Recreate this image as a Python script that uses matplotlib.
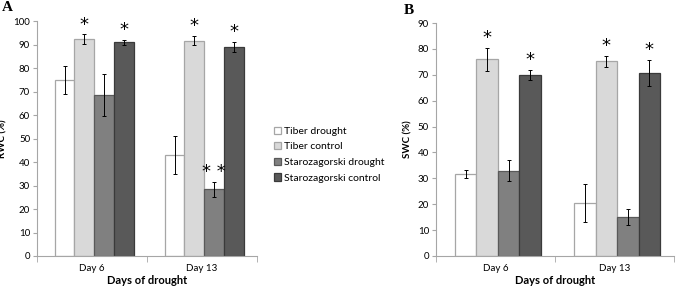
import matplotlib
matplotlib.use("Agg")
import matplotlib.pyplot as plt
import numpy as np

days = ["Day 6", "Day 13"]
series = ["Tiber drought", "Tiber control", "Starozagorski drought", "Starozagorski control"]
rwc = [[75.0, 43.0], [92.3, 91.6], [68.5, 28.4], [91.0, 89.0]]
rwc_err = [[6.0, 8.0], [2.0, 2.0], [9.0, 3.3], [1.0, 2.0]]
rwc_sig = [["", ""], ["*", "*"], ["", "* *"], ["*", "*"]]
swc = [[31.7, 20.5], [76.0, 75.2], [33.0, 15.0], [70.0, 70.7]]
swc_err = [[1.7, 7.5], [4.5, 2.0], [4.2, 3.0], [2.0, 5.0]]
swc_sig = [["", ""], ["*", "*"], ["", ""], ["*", "*"]]

faces = ["#ffffff", "#d9d9d9", "#808080", "#595959"]
edges = ["#a6a6a6", "#a6a6a6", "#595959", "#3a3a3a"]

plt.rcParams['font.family'] = ['Lato', 'DejaVu Sans']

fig = plt.figure(figsize=(6.77, 2.89), dpi=100)
axA = fig.add_axes([0.0547, 0.1142, 0.325, 0.813])
axB = fig.add_axes([0.644, 0.1142, 0.352, 0.806])

def draw(ax, vals, errs, sigs, ymax, ystep, ylabel):
    x = np.arange(len(days))
    w = 0.18
    handles = []
    for i in range(4):
        pos = x + (i - 1.5) * w + 0.02
        h = ax.bar(pos, vals[i], w, color=faces[i], edgecolor=edges[i], linewidth=0.9,
                   yerr=errs[i], error_kw=dict(ecolor="black", elinewidth=0.7, capsize=1.5, capthick=0.7),
                   label=series[i])
        handles.append(h)
        for j in range(len(days)):
            if sigs[i][j]:
                ytop = vals[i][j] + errs[i][j]
                ax.annotate(sigs[i][j], (pos[j], ytop), xytext=(0, 0.5), textcoords="offset points",
                            ha="center", va="bottom", fontsize=13, family="DejaVu Sans")
    ax.set_xlim(-0.5, 1.5)
    ax.set_ylim(0, ymax)
    ax.set_yticks(np.arange(0, ymax + 1, ystep))
    ax.set_xticks([0, 1])
    ax.set_xticklabels(days, fontsize=7)
    ax.set_xticks([-0.5, 0.5, 1.5], minor=True)
    ax.tick_params(axis="x", which="major", length=0, pad=6)
    ax.tick_params(axis="x", which="minor", length=4, color="#a6a6a6", direction="out")
    ax.tick_params(axis="y", labelsize=7, length=3, color="#a6a6a6", direction="out", pad=2)
    for s in ["top", "right"]:
        ax.spines[s].set_visible(False)
    for s in ["left", "bottom"]:
        ax.spines[s].set_color("#a6a6a6")
        ax.spines[s].set_linewidth(0.8)
    ax.set_xlabel("Days of drought", fontsize=8, fontweight="bold", labelpad=1)
    ax.set_ylabel(ylabel, fontsize=7, fontweight="bold", labelpad=4)
    return handles

hA = draw(axA, rwc, rwc_err, rwc_sig, 100, 10, "RWC (%)")
draw(axB, swc, swc_err, swc_sig, 90, 10, "SWC (%)")

fig.legend(handles=hA, labels=series, loc="center left", bbox_to_anchor=(0.398, 0.465),
           frameon=False, fontsize=7.5, handlelength=0.7, handleheight=0.7, handletextpad=0.3,
           labelspacing=0.6, borderaxespad=0)

fig.text(0.003, 0.995, "A", fontsize=11, fontweight="bold", family="Liberation Serif", va="top")
fig.text(0.597, 0.985, "B", fontsize=11, fontweight="bold", family="Liberation Serif", va="top")

fig.savefig("out.png", dpi=100)
